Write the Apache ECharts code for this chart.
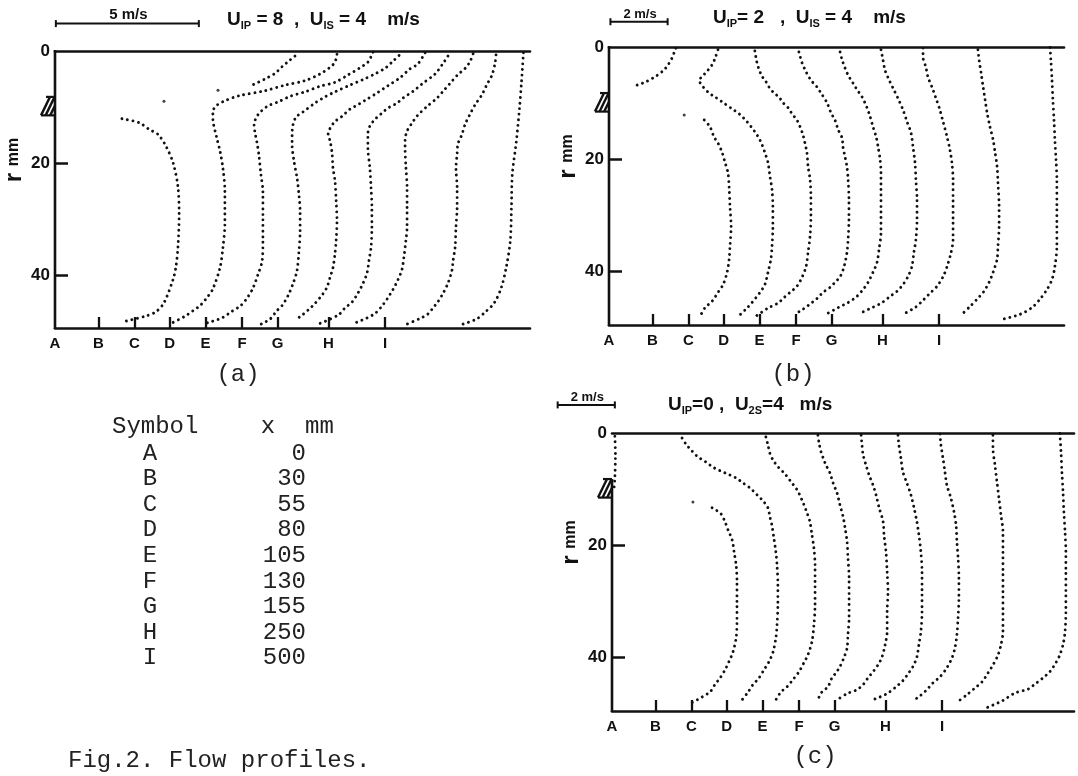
<!DOCTYPE html>
<html><head><meta charset="utf-8">
<script src="https://cdn.jsdelivr.net/npm/echarts@6/dist/echarts.min.js"></script>
<style>html,body{margin:0;padding:0;background:#fff}#c{width:1078px;height:776px}</style>
</head><body><div id="c"></div>
<script>
// ---------------- DATA ----------------
const stationNames = ['A','B','C','D','E','F','G','H','I'];
const stationXmm   = [0, 30, 55, 80, 105, 130, 155, 250, 500];
// schematic station positions along the plot (in velocity-scale units, m/s)
const stationTicks = [0, 1.52, 2.78, 4.01, 5.26, 6.54, 7.78, 9.56, 11.54];
const yTicks = [0, 20, 40];
const rWall = 49.5;

// profiles: [velocity u (m/s) measured from the station line, r (mm)]
// ---- (a) U1P = 8, U1S = 4 m/s
const a_A_jet = [[8.39,0.9],[8.15,1.9],[7.94,2.8],[7.69,4.0],[7.34,5.0],[6.89,6.1]];
const a_A_iso = [[5.70,7.0],[3.81,9.0]];
const a_A = [[2.34,12.1],[2.94,12.8],[3.29,14.0],[3.60,14.9],[3.88,17.0],[4.13,20.0],[4.30,24.3],[4.34,29.3],[4.30,35.0],[4.23,38.5],[4.13,40.8],[3.81,45.0],[3.53,46.6],[3.15,47.4],[2.45,48.3]];
const a_B = [[8.34,0.6],[8.27,2.0],[8.10,2.9],[7.75,4.1],[7.22,5.3],[6.52,6.1],[5.82,7.1],[4.91,8.0],[4.42,8.9],[4.14,9.7],[4.00,10.8],[4.00,12.0],[4.14,15.6],[4.25,17.9],[4.35,20.9],[4.42,25.0],[4.42,30.9],[4.35,35.2],[4.25,38.7],[4.00,42.5],[3.79,44.1],[3.55,45.5],[3.31,46.4],[2.99,47.5],[2.61,48.5]];
const a_C = [[8.34,0.2],[8.16,2.0],[7.88,3.0],[7.46,4.3],[7.01,5.6],[6.49,6.3],[5.96,7.3],[5.44,8.1],[5.02,9.1],[4.67,9.8],[4.42,10.8],[4.28,11.7],[4.18,13.1],[4.21,14.5],[4.28,16.3],[4.35,18.6],[4.42,22.1],[4.49,25.1],[4.49,29.9],[4.49,34.0],[4.46,37.6],[4.32,39.9],[4.14,42.4],[3.93,44.2],[3.69,45.6],[3.41,46.5],[3.06,47.7],[2.53,48.6]];
const a_D = [[8.02,0.8],[7.77,2.0],[7.53,3.1],[7.21,4.0],[6.76,5.1],[6.30,6.1],[5.78,7.3],[5.43,8.2],[5.08,9.3],[4.66,10.9],[4.42,11.8],[4.31,13.2],[4.28,15.0],[4.28,16.8],[4.35,19.8],[4.45,22.6],[4.52,25.7],[4.56,28.7],[4.56,32.2],[4.52,35.8],[4.45,39.3],[4.31,41.6],[4.14,43.7],[3.93,45.5],[3.75,46.4],[3.51,47.9],[3.16,48.9]];
const a_E = [[7.68,0.3],[7.43,2.3],[7.15,3.2],[6.80,4.8],[6.38,6.2],[6.00,7.5],[5.65,8.6],[5.37,9.5],[5.05,10.4],[4.77,11.7],[4.53,12.6],[4.36,13.8],[4.29,14.9],[4.36,16.1],[4.43,18.4],[4.46,20.9],[4.53,23.2],[4.57,26.8],[4.60,30.3],[4.57,33.9],[4.53,36.2],[4.46,38.7],[4.36,40.4],[4.25,42.2],[4.08,43.6],[3.83,45.1],[3.59,46.3],[3.38,47.2],[3.13,48.1]];
const a_F = [[7.20,0.9],[7.03,2.2],[6.75,4.1],[6.29,5.9],[5.98,7.2],[5.63,8.4],[5.42,9.3],[5.10,10.2],[4.89,11.1],[4.65,12.2],[4.47,13.4],[4.40,14.8],[4.40,17.3],[4.47,20.9],[4.51,24.4],[4.54,28.0],[4.54,31.5],[4.51,35.1],[4.44,37.4],[4.37,39.7],[4.23,41.5],[4.05,43.3],[3.84,44.9],[3.60,45.9],[3.36,47.2],[2.62,48.9]];
const a_G = [[6.84,0.5],[6.73,1.9],[6.56,3.1],[6.31,4.2],[6.03,5.8],[5.79,7.2],[5.58,8.4],[5.23,9.9],[4.88,11.6],[4.70,12.9],[4.53,14.3],[4.46,16.0],[4.46,17.3],[4.49,20.8],[4.53,24.4],[4.53,27.9],[4.53,31.5],[4.49,33.8],[4.42,36.8],[4.35,39.1],[4.21,40.9],[4.04,42.6],[3.86,44.1],[3.65,45.6],[3.41,46.9],[3.13,47.7],[2.71,48.6]];
const a_H = [[5.86,0.7],[5.82,2.3],[5.72,4.3],[5.54,6.0],[5.37,7.8],[5.13,9.6],[4.95,11.3],[4.78,13.1],[4.67,14.9],[4.53,16.6],[4.50,18.4],[4.46,20.9],[4.50,24.4],[4.50,28.0],[4.46,31.5],[4.43,35.1],[4.36,37.4],[4.32,39.2],[4.18,41.5],[4.01,43.3],[3.83,44.8],[3.66,45.9],[3.48,47.0],[3.20,47.8],[2.75,48.8]];
const a_I = [[4.84,0.3],[4.77,5.6],[4.70,10.3],[4.59,16.2],[4.45,22.0],[4.42,28.0],[4.38,33.9],[4.24,38.6],[4.07,42.2],[3.82,45.0],[3.47,46.8],[3.20,47.9],[2.67,48.9]];

// ---- (b) U1P = 2, U1S = 4 m/s
const b_A_jet = [[2.34,0.2],[2.27,1.1],[2.20,2.0],[2.06,3.2],[1.92,4.1],[1.64,5.2],[1.29,6.2],[0.80,7.1]];
const b_A_iso = [[2.63,12.1]];
const b_A = [[3.33,13.0],[3.53,14.2],[3.67,16.0],[3.81,17.1],[3.95,18.7],[4.06,20.6],[4.16,22.4],[4.20,24.9],[4.23,28.4],[4.27,32.0],[4.23,35.5],[4.20,37.8],[4.13,40.1],[3.99,42.3],[3.81,43.7],[3.60,45.3],[3.36,46.4],[3.22,47.6]];
const b_B = [[2.29,0.5],[2.19,2.0],[2.08,3.2],[1.91,4.3],[1.73,5.3],[1.63,5.9],[1.77,7.1],[1.98,8.2],[2.19,8.9],[2.47,9.9],[2.78,11.0],[3.03,11.9],[3.27,13.1],[3.45,14.2],[3.58,15.1],[3.72,16.2],[3.83,17.4],[3.93,18.8],[4.04,20.6],[4.11,23.1],[4.18,25.4],[4.21,28.4],[4.21,32.0],[4.18,35.5],[4.14,37.8],[4.04,40.1],[3.93,42.3],[3.76,43.7],[3.48,45.5],[3.30,46.5],[3.08,47.6]];
const b_C = [[2.32,0.7],[2.39,2.7],[2.46,3.9],[2.57,5.2],[2.71,6.2],[2.81,7.1],[2.99,8.2],[3.16,8.9],[3.30,9.9],[3.48,10.8],[3.62,11.9],[3.79,13.0],[3.90,14.2],[4.00,15.6],[4.07,17.1],[4.14,18.8],[4.18,21.3],[4.25,23.6],[4.28,26.6],[4.28,30.2],[4.25,33.7],[4.18,36.6],[4.11,39.1],[3.97,41.0],[3.79,42.6],[3.55,43.7],[3.30,44.8],[3.13,45.6],[2.81,46.4],[2.39,47.8]];
const b_D = [[2.63,0.9],[2.74,2.8],[2.88,4.4],[3.05,5.9],[3.26,7.1],[3.44,8.5],[3.61,9.9],[3.75,11.7],[3.89,13.0],[4.00,14.7],[4.14,16.2],[4.17,17.8],[4.24,19.5],[4.31,21.3],[4.35,23.6],[4.38,27.2],[4.38,30.7],[4.35,34.3],[4.31,36.6],[4.21,39.1],[4.07,40.9],[3.89,41.9],[3.72,42.8],[3.47,43.7],[3.26,44.8],[3.09,45.5],[2.77,46.7],[2.49,47.6]];
const b_E = [[2.82,0.9],[2.89,2.3],[2.99,3.7],[3.10,5.0],[3.27,6.4],[3.41,7.6],[3.59,8.9],[3.76,10.8],[3.87,12.4],[3.97,14.2],[4.08,16.0],[4.15,17.8],[4.22,20.1],[4.25,22.4],[4.25,25.4],[4.25,29.5],[4.25,33.0],[4.18,36.1],[4.11,38.4],[3.97,40.1],[3.80,41.9],[3.62,43.2],[3.41,44.4],[3.10,45.5],[2.75,46.4],[2.40,47.4]];
const b_F = [[2.97,0.5],[3.04,2.3],[3.11,4.1],[3.22,5.5],[3.39,7.3],[3.56,9.1],[3.74,11.2],[3.88,13.3],[4.02,15.3],[4.09,17.8],[4.16,20.6],[4.19,23.6],[4.23,27.2],[4.23,30.7],[4.19,34.3],[4.12,36.6],[4.05,39.1],[3.91,40.9],[3.74,42.3],[3.53,43.5],[3.29,44.4],[3.01,45.5],[2.66,46.4],[2.24,47.4]];
const b_G = [[3.20,0.2],[3.20,1.8],[3.30,3.6],[3.37,5.3],[3.51,7.1],[3.65,9.1],[3.79,11.2],[3.90,13.3],[4.04,16.0],[4.14,18.3],[4.21,20.6],[4.25,23.6],[4.25,27.2],[4.25,30.7],[4.25,34.3],[4.18,36.6],[4.04,39.1],[3.90,40.9],[3.69,42.6],[3.41,44.0],[3.16,45.3],[2.92,46.4],[2.50,47.6]];
const b_H = [[3.34,0.5],[3.38,2.3],[3.45,4.6],[3.52,7.1],[3.59,9.4],[3.66,11.7],[3.76,14.2],[3.87,16.5],[3.94,18.8],[4.01,21.3],[4.04,24.2],[4.08,28.4],[4.08,32.0],[4.04,35.5],[4.01,37.8],[3.87,40.1],[3.73,41.9],[3.55,43.5],[3.31,44.9],[3.06,46.2],[2.78,47.6]];
const b_I = [[3.88,0.1],[3.91,2.3],[3.95,5.9],[3.98,9.4],[4.02,13.0],[4.05,16.5],[4.09,20.1],[4.12,23.6],[4.12,28.4],[4.12,32.0],[4.12,35.5],[4.05,39.1],[3.95,41.4],[3.77,43.2],[3.53,44.9],[3.25,46.4],[2.83,47.6],[2.20,48.5]];

// ---- (c) U1P = 0, U2S = 4 m/s
const c_A_jet = [[0.10,0.6],[0.12,4.0],[0.10,8.0],[0.06,10.4]];
const c_A_iso = [[2.83,12.3]];
const c_A = [[3.50,13.3],[3.81,14.4],[3.95,15.8],[4.06,17.3],[4.20,19.0],[4.27,21.2],[4.34,23.5],[4.37,26.5],[4.37,30.1],[4.37,33.6],[4.34,36.5],[4.23,39.0],[4.09,40.7],[3.95,42.2],[3.78,43.6],[3.60,44.8],[3.43,46.1],[3.15,47.0],[2.73,48.2]];
const c_B = [[0.93,0.9],[1.07,2.0],[1.24,3.0],[1.45,4.1],[1.77,5.2],[2.05,6.2],[2.43,7.1],[2.82,8.0],[3.06,8.9],[3.31,9.8],[3.55,11.0],[3.76,12.1],[3.93,13.3],[4.00,14.9],[4.07,16.4],[4.14,18.7],[4.21,21.2],[4.25,23.5],[4.28,27.0],[4.28,30.6],[4.25,34.2],[4.21,36.5],[4.11,39.0],[3.97,40.7],[3.79,42.2],[3.62,43.6],[3.41,44.8],[3.24,46.1],[3.03,47.5]];
const c_C = [[2.60,0.7],[2.67,2.1],[2.74,3.6],[2.85,4.8],[3.02,6.0],[3.27,7.3],[3.48,8.7],[3.69,10.1],[3.86,11.9],[4.00,13.7],[4.14,15.8],[4.21,18.1],[4.28,20.5],[4.32,23.5],[4.32,27.0],[4.32,30.6],[4.28,34.2],[4.21,37.2],[4.07,39.5],[3.93,40.9],[3.76,42.5],[3.55,43.9],[3.34,45.2],[3.13,46.1],[2.95,47.5]];
const c_D = [[3.19,0.4],[3.23,1.8],[3.30,3.4],[3.37,4.4],[3.47,5.7],[3.61,7.1],[3.72,8.9],[3.86,10.7],[3.96,12.8],[4.07,14.9],[4.14,16.9],[4.21,19.4],[4.24,22.2],[4.28,25.8],[4.28,29.4],[4.28,32.9],[4.24,35.9],[4.21,38.3],[4.10,40.0],[3.96,41.6],[3.82,42.7],[3.68,43.6],[3.54,45.2],[3.33,46.1],[3.16,47.8]];
const c_E = [[3.45,0.4],[3.48,2.1],[3.52,3.9],[3.62,5.7],[3.73,7.5],[3.87,9.3],[3.97,11.0],[4.08,13.3],[4.22,15.8],[4.25,18.1],[4.32,21.2],[4.36,24.7],[4.39,28.3],[4.36,31.9],[4.36,35.4],[4.29,37.7],[4.18,39.9],[4.04,41.3],[3.87,42.5],[3.69,43.6],[3.52,44.8],[3.31,45.7],[2.96,46.4],[2.61,47.5]];
const c_F = [[3.46,0.4],[3.49,2.1],[3.56,4.4],[3.63,6.9],[3.77,8.9],[3.91,11.0],[4.02,13.3],[4.12,15.8],[4.19,18.1],[4.26,21.2],[4.30,24.7],[4.30,28.3],[4.30,31.9],[4.26,35.4],[4.19,37.7],[4.12,39.9],[3.98,41.6],[3.81,42.9],[3.63,44.1],[3.39,45.2],[3.11,46.3],[2.83,47.0],[2.48,47.7]];
const c_G = [[3.69,0.2],[3.72,2.1],[3.79,4.4],[3.86,6.9],[3.93,9.3],[4.07,11.6],[4.18,14.1],[4.25,16.4],[4.28,19.4],[4.32,22.2],[4.35,25.8],[4.35,29.4],[4.32,32.9],[4.28,35.9],[4.21,38.3],[4.11,40.0],[3.93,41.8],[3.69,43.4],[3.44,44.5],[3.23,45.7],[2.99,46.8],[2.74,47.7]];
const c_H = [[3.76,0.4],[3.76,2.7],[3.83,5.7],[3.90,8.7],[3.97,11.6],[4.04,14.6],[4.11,17.6],[4.11,21.2],[4.11,24.7],[4.11,28.3],[4.11,31.9],[4.11,35.4],[4.04,37.7],[3.94,39.5],[3.76,41.3],[3.59,42.7],[3.38,44.3],[3.13,45.4],[2.85,46.6],[2.54,47.8]];
const c_I = [[4.12,0.1],[4.16,3.4],[4.19,6.9],[4.23,10.5],[4.26,14.1],[4.30,17.6],[4.33,21.2],[4.33,24.7],[4.33,28.3],[4.33,31.9],[4.30,35.4],[4.23,37.7],[4.12,39.5],[3.98,40.9],[3.77,42.5],[3.53,43.6],[3.25,44.7],[3.01,45.6],[2.55,46.3],[2.10,47.7],[1.57,48.9]];

// ---------------- LAYOUT / STYLE ----------------
const INK = '#111';
const SANS = '"Liberation Sans", Arial, sans-serif';
const MONO = '"Liberation Mono", "DejaVu Sans Mono", monospace';
const PX_PER_MS = 28.6;
const hatchR = [8.2, 11.5];

const panels = [
  {layout:{left:55, top:51, width:475, height:277}, profiles:[a_A,a_B,a_C,a_D,a_E,a_F,a_G,a_H,a_I], jet:a_A_jet, iso:a_A_iso,
   bar:{x:0.03, r:-4.9, len:5, font:15}, upperWall:true},
  {layout:{left:609, top:47, width:455, height:278}, profiles:[b_A,b_B,b_C,b_D,b_E,b_F,b_G,b_H,b_I], jet:b_A_jet, iso:b_A_iso,
   bar:{x:0.05, r:-4.5, len:2, font:13}, upperWall:true},
  {layout:{left:612, top:433, width:462, height:278}, profiles:[c_A,c_B,c_C,c_D,c_E,c_F,c_G,c_H,c_I], jet:c_A_jet, iso:c_A_iso,
   bar:{x:-1.9, r:-5.0, len:2, font:13}, upperWall:false}
];

function stationLabel(v) {
  let best = 0, d = 1e9;
  stationTicks.forEach((t, i) => { if (Math.abs(t - v) < d) { d = Math.abs(t - v); best = i; } });
  return stationNames[best];
}

const dotLine = {color: INK, width: 2.9, type: [0.01, 5.6], cap: 'round'};

const grid = [], xAxis = [], yAxis = [], series = [];
panels.forEach((p, k) => {
  const L = p.layout;
  const xmax = L.width / PX_PER_MS;
  grid.push({left: L.left, top: L.top, width: L.width, height: L.height});
  xAxis.push({
    gridIndex: k, type: 'value', min: 0, max: xmax, position: 'bottom',
    axisLine: {show: true, onZero: false, lineStyle: {color: INK, width: 2.6}},
    axisTick: {show: true, inside: true, length: 11, customValues: stationTicks.slice(1), lineStyle: {color: INK, width: 2.3}},
    axisLabel: {show: true, customValues: stationTicks, formatter: stationLabel, margin: 8, color: INK,
      fontSize: 15, fontWeight: 'bold', fontFamily: SANS},
    splitLine: {show: false}
  });
  xAxis.push({
    gridIndex: k, type: 'value', min: 0, max: xmax, position: 'top',
    axisLine: {show: true, onZero: false, lineStyle: {color: INK, width: 2.6}},
    axisTick: {show: false}, axisLabel: {show: false}, splitLine: {show: false}
  });
  yAxis.push({
    gridIndex: k, type: 'value', inverse: true, min: 0, max: rWall,
    axisLine: {show: false},
    axisTick: {show: true, inside: true, length: 13, customValues: [20, 40], lineStyle: {color: INK, width: 2.5}},
    axisLabel: {show: true, customValues: yTicks, margin: 5, color: INK, fontSize: 17, fontWeight: 'bold', fontFamily: SANS},
    splitLine: {show: false}
  });
  p.profiles.forEach((prof, i) => {
    series.push({
      type: 'line', name: stationNames[i], xAxisIndex: 2 * k, yAxisIndex: k,
      data: prof.map(([u, r]) => [stationTicks[i] + u, r]),
      showSymbol: false, smooth: 0.3, lineStyle: dotLine, silent: true, z: 3
    });
  });
  series.push({
    type: 'line', name: 'A jet', xAxisIndex: 2 * k, yAxisIndex: k,
    data: p.jet.map(([u, r]) => [stationTicks[0] + u, r]),
    showSymbol: false, smooth: 0.3, lineStyle: dotLine, silent: true, z: 3
  });
  series.push({
    type: 'scatter', name: 'A pts', xAxisIndex: 2 * k, yAxisIndex: k,
    data: p.iso.map(([u, r]) => [stationTicks[0] + u, r]),
    symbolSize: 3, itemStyle: {color: INK}, silent: true, z: 3
  });
  // nozzle wall, hatch, wall line, scale bar and axis name
  series.push({
    type: 'custom', xAxisIndex: 2 * k, yAxisIndex: k, data: [[0, 0]], silent: true, z: 4, clip: false,
    renderItem: function (params, api) {
      const c0 = api.coord([0, 0]), cb = api.coord([0, rWall]);
      const h1 = api.coord([0, hatchR[0]]), h2 = api.coord([0, hatchR[1]]);
      const x = c0[0];
      const st = {stroke: INK, lineWidth: 2.6};
      const ch = [];
      ch.push({type: 'line', shape: {x1: x, y1: p.upperWall ? c0[1] - 1 : h1[1], x2: x, y2: cb[1] + 1}, style: st});
      const yt = h1[1], yb = h2[1], w = 14;
      ch.push({type: 'line', shape: {x1: x - w + 5, y1: yt, x2: x, y2: yt}, style: {stroke: INK, lineWidth: 2.2}});
      ch.push({type: 'line', shape: {x1: x - w, y1: yb, x2: x, y2: yb}, style: {stroke: INK, lineWidth: 2.2}});
      for (let j = 0; j < 3; j++) {
        const xs = x - w + j * 4.6;
        const xe = Math.min(xs + 9, x);
        const ye = yb - (xe - xs) / 9 * (yb - yt);
        ch.push({type: 'line', shape: {x1: xs, y1: yb, x2: xe, y2: ye}, style: {stroke: INK, lineWidth: 2.4}});
      }
      // scale bar
      const b1 = api.coord([p.bar.x, p.bar.r]), b2 = api.coord([p.bar.x + p.bar.len, p.bar.r]);
      const bs = {stroke: INK, lineWidth: 2};
      ch.push({type: 'line', shape: {x1: b1[0], y1: b1[1], x2: b2[0], y2: b2[1]}, style: bs});
      ch.push({type: 'line', shape: {x1: b1[0], y1: b1[1] - 3.5, x2: b1[0], y2: b1[1] + 3.5}, style: bs});
      ch.push({type: 'line', shape: {x1: b2[0], y1: b2[1] - 3.5, x2: b2[0], y2: b2[1] + 3.5}, style: bs});
      ch.push({type: 'text', x: (b1[0] + b2[0]) / 2 + 1, y: b1[1] - 1,
        style: {text: p.bar.len + ' m/s', fill: INK, font: 'bold ' + p.bar.font + 'px ' + SANS, align: 'center', verticalAlign: 'bottom'}});
      // axis name "r  mm"
      const nm = api.coord([0, 19.5]);
      ch.push({type: 'text', x: x - 41, y: nm[1], rotation: Math.PI / 2,
        style: {text: '{r|r}  {m|mm}', align: 'center', verticalAlign: 'middle',
          rich: {r: {fontSize: 24, fontWeight: 'bold', fontFamily: SANS, fill: INK},
                 m: {fontSize: 16, fontWeight: 'bold', fontFamily: SANS, fill: INK}}}});
      return {type: 'group', children: ch};
    }
  });
});

const titleRich = {
  u: {fontSize: 19, fontWeight: 'bold', fontFamily: SANS, color: INK, lineHeight: 22},
  s: {fontSize: 11, fontWeight: 'bold', fontFamily: SANS, color: INK, lineHeight: 22, verticalAlign: 'bottom'},
  n: {fontSize: 19, fontWeight: 'bold', fontFamily: SANS, color: INK, lineHeight: 22}
};
const titles = [
  {left: 227, top: 9, text: '{u|U}{s|IP}{n| = 8  ,  }{u|U}{s|IS}{n| = 4    m/s}'},
  {left: 713, top: 7, text: '{u|U}{s|IP}{n|= 2   ,  }{u|U}{s|IS}{n| = 4    m/s}'},
  {left: 668, top: 394, text: '{u|U}{s|IP}{n|=0 ,  }{u|U}{s|2S}{n|=4   m/s}'}
].map(t => Object.assign({padding: 0, textStyle: {rich: titleRich}}, t));

// captions and symbol table
const graphic = [];
const monoStyle = (txt, align) => ({text: txt, fill: '#222', font: '24px ' + MONO, align: align || 'left', verticalAlign: 'middle'});
graphic.push({type: 'text', x: 238, y: 375, style: monoStyle('(a)', 'center')});
graphic.push({type: 'text', x: 793, y: 375, style: monoStyle('(b)', 'center')});
graphic.push({type: 'text', x: 815, y: 757, style: monoStyle('(c)', 'center')});
graphic.push({type: 'text', x: 112, y: 427, style: monoStyle('Symbol')});
graphic.push({type: 'text', x: 268, y: 427, style: monoStyle('x', 'center')});
graphic.push({type: 'text', x: 305, y: 427, style: monoStyle('mm')});
stationNames.forEach((s, i) => {
  graphic.push({type: 'text', x: 150, y: 453.3 + i * 25.6, style: monoStyle(s, 'center')});
  graphic.push({type: 'text', x: 306, y: 453.3 + i * 25.6, style: monoStyle(String(stationXmm[i]), 'right')});
});
graphic.push({type: 'text', x: 68, y: 761, style: monoStyle('Fig.2. Flow profiles.')});

const chart = echarts.init(document.getElementById('c'), null, {renderer: 'canvas', width: 1078, height: 776});
chart.setOption({
  animation: false,
  backgroundColor: '#fff',
  title: titles,
  grid: grid, xAxis: xAxis, yAxis: yAxis, series: series,
  graphic: graphic
});
</script>
</body></html>
